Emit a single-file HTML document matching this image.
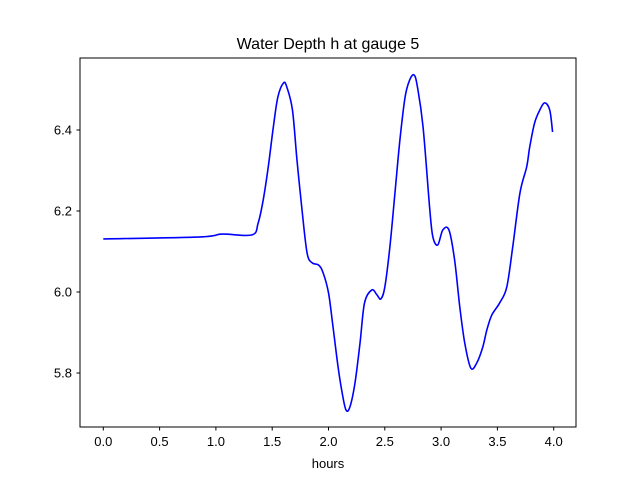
<!DOCTYPE html>
<html><head><meta charset="utf-8"><style>
body{margin:0;background:#fff}
svg text{font-family:"Liberation Sans","DejaVu Sans",sans-serif;fill:#000}
</style></head><body>
<svg id="chart" width="640" height="480" xmlns="http://www.w3.org/2000/svg">
<rect width="640" height="480" fill="#fff"/>
<text x="328" y="49" font-size="16" text-anchor="middle">Water Depth h at gauge 5</text>
<g id="plot"></g>
<rect x="80" y="58" width="496" height="369" fill="none" stroke="#000" stroke-width="1"/>
<text x="328" y="468" font-size="13" text-anchor="middle">hours</text>
</svg>
<script>
const times=[0,0.86,1.055,1.32,1.375,1.42,1.465,1.51,1.55,1.60,1.63,1.68,1.72,1.765,1.81,1.855,1.91,1.95,2.0,2.04,2.085,2.12,2.155,2.19,2.235,2.28,2.32,2.385,2.43,2.465,2.50,2.545,2.59,2.634,2.68,2.72,2.76,2.79,2.84,2.90,2.927,2.97,3.015,3.07,3.12,3.166,3.21,3.264,3.317,3.37,3.406,3.45,3.52,3.583,3.636,3.70,3.76,3.787,3.83,3.876,3.92,3.965,3.99];
const depth=[6.131,6.136,6.143,6.141,6.170,6.227,6.309,6.407,6.481,6.516,6.506,6.449,6.326,6.202,6.096,6.072,6.067,6.049,5.998,5.914,5.815,5.753,5.709,5.716,5.775,5.874,5.973,6.005,5.993,5.983,6.012,6.111,6.244,6.375,6.481,6.523,6.536,6.506,6.407,6.202,6.136,6.116,6.153,6.153,6.079,5.963,5.874,5.812,5.825,5.864,5.906,5.943,5.973,6.012,6.111,6.244,6.309,6.358,6.417,6.449,6.467,6.449,6.395];
const xTicks=[0,0.5,1.0,1.5,2.0,2.5,3.0,3.5,4.0];
const xTickLabels=["0.0","0.5","1.0","1.5","2.0","2.5","3.0","3.5","4.0"];
const yTicks=[5.8,6.0,6.2,6.4];
const yTickLabels=["5.8","6.0","6.2","6.4"];
const NS="http://www.w3.org/2000/svg";
const xs=t=>103.3+t*112.6;
const ys=h=>373-(h-5.8)*405;
const g=document.getElementById('plot');
function mk(tag,attrs){const e=document.createElementNS(NS,tag);for(const k in attrs)e.setAttribute(k,attrs[k]);g.appendChild(e);return e;}
xTicks.forEach((v,i)=>{
 const l=mk('line',{x1:xs(v),x2:xs(v),y1:427,y2:430.5,stroke:'#000'});
 
 
 const t=mk('text',{x:xs(v),y:446,'font-size':13,'text-anchor':'middle'});
 t.textContent=xTickLabels[i];
 
 
});
yTicks.forEach((v,i)=>{
 const l=mk('line',{x1:76.5,x2:80,y1:ys(v),y2:ys(v),stroke:'#000'});
 
 
 const t=mk('text',{x:72,y:ys(v)+4.5,'font-size':13,'text-anchor':'end'});
 t.textContent=yTickLabels[i];
 
 
});
const pts=times.map((t,i)=>[xs(t),ys(depth[i])]);
let d='M'+pts[0][0]+','+pts[0][1];
for(let i=0;i<pts.length-1;i++){
 const p0=pts[Math.max(0,i-1)],p1=pts[i],p2=pts[i+1],p3=pts[Math.min(pts.length-1,i+2)];
 const c1=[p1[0]+(p2[0]-p0[0])/6,p1[1]+(p2[1]-p0[1])/6];
 const c2=[p2[0]-(p3[0]-p1[0])/6,p2[1]-(p3[1]-p1[1])/6];
 d+=' C'+c1+' '+c2+' '+p2;
}
const line=mk('path',{d:d,fill:'none',stroke:'#0000ff','stroke-width':1.6,'stroke-linejoin':'round'});


</script>
</body></html>
